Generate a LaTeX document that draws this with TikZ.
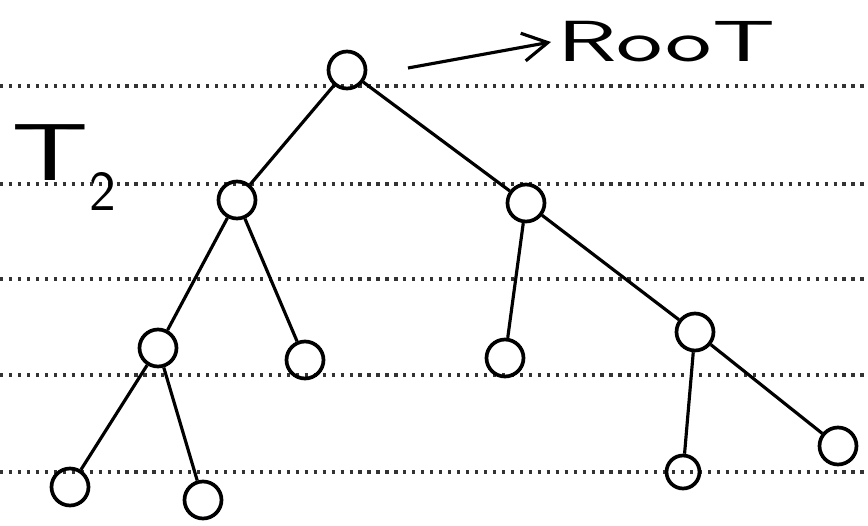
\documentclass[tikz,border=0pt]{standalone}
\usepackage{fontspec}
\usepackage{tikz}
\usetikzlibrary{arrows.meta,positioning}

\begin{document}
\begin{tikzpicture}[x=0.2mm,y=-0.2mm,
    vertex/.style={circle,draw,line width=2.1pt,minimum size=7.4mm,inner sep=0pt},
    branch/.style={line width=1.8pt},
    ruling/.style={line width=1.8pt,black!80,dash pattern=on 1.8pt off 3.3pt},
    hand/.style={font=\sffamily\fontsize{33}{33}\selectfont}]
  \useasboundingbox (0,0) rectangle (868,526);

  % ruled paper
  \foreach \y in {86,184,279,375,472}
    \draw[ruling] (0,\y) -- (868,\y);

  \node[vertex] (root) at (347,70) {};
  \node[vertex] (l) at (237,200) {};
  \node[vertex] (r) at (526,203) {};
  \node[vertex] (ll) at (158,348) {};
  \node[vertex] (lr) at (305,360) {};
  \node[vertex] (rl) at (505,358) {};
  \node[vertex] (rr) at (695,332) {};
  \node[vertex] (lll) at (70,487) {};
  \node[vertex] (llr) at (203,500) {};
  \node[vertex,minimum size=6.6mm] (rrl) at (683,472) {};
  \node[vertex] (rrr) at (838,446) {};

  \foreach \a/\b in {root/l,root/r,l/ll,l/lr,r/rl,r/rr,ll/lll,ll/llr,rr/rrl,rr/rrr}
    \draw[branch] (\a) -- (\b);

  % labels
  \node[hand,anchor=west] (rootlbl) at (551,42) {\scalebox{1.7}[1]{RooT}};
  \coordinate (arrowtail) at (408,68);
  \draw[branch,-{Straight Barb[length=5mm,width=5.6mm]}] (arrowtail) -- (rootlbl.west);

  \node[hand,font=\sffamily\fontsize{46}{46}\selectfont] (tname) at (64,168) {\scalebox{1.5}[1]{T}\raisebox{-4pt}{$_{\mathsf{2}}$}};
\end{tikzpicture}
\end{document}
